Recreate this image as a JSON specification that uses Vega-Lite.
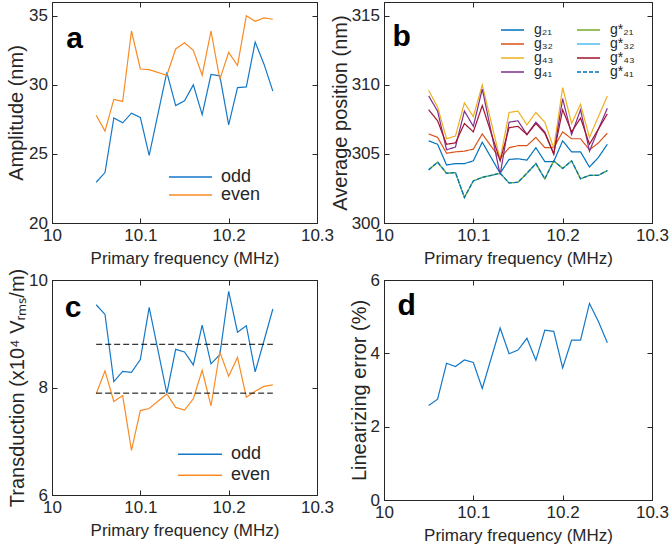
{
  "$schema": "https://vega.github.io/schema/vega-lite/v6.json",
  "background": "white",
  "padding": {"left": 6, "top": 1, "right": 4, "bottom": 0},
  "config": {
    "font": "Liberation Sans",
    "view": {"stroke": "#262626", "strokeWidth": 1},
    "axis": {
      "grid": false,
      "domainColor": "#262626", "domainWidth": 1,
      "tickColor": "#262626", "tickWidth": 1, "tickSize": -5,
      "labelColor": "#262626", "titleColor": "#262626",
      "labelFont": "Liberation Sans", "titleFont": "Liberation Sans",
      "labelFontSize": 17, "titleFontWeight": "normal",
      "labelFlush": false, "labelOverlap": false
    },
    "legend": {
      "labelFont": "Liberation Sans", "labelColor": "#262626",
      "symbolType": "stroke", "padding": 0, "orient": "none"
    }
  },
  "datasets": {
    "amp": [
      {"f": 10.05, "parity": "odd", "v": 22.95}, {"f": 10.06, "parity": "odd", "v": 23.65},
      {"f": 10.07, "parity": "odd", "v": 27.6}, {"f": 10.08, "parity": "odd", "v": 27.25},
      {"f": 10.09, "parity": "odd", "v": 27.95}, {"f": 10.1, "parity": "odd", "v": 27.65},
      {"f": 10.11, "parity": "odd", "v": 24.9}, {"f": 10.13, "parity": "odd", "v": 30.9},
      {"f": 10.14, "parity": "odd", "v": 28.5}, {"f": 10.15, "parity": "odd", "v": 28.85},
      {"f": 10.16, "parity": "odd", "v": 30.0}, {"f": 10.17, "parity": "odd", "v": 27.85},
      {"f": 10.18, "parity": "odd", "v": 30.75}, {"f": 10.19, "parity": "odd", "v": 30.65},
      {"f": 10.2, "parity": "odd", "v": 27.1}, {"f": 10.21, "parity": "odd", "v": 29.8},
      {"f": 10.22, "parity": "odd", "v": 29.85}, {"f": 10.23, "parity": "odd", "v": 33.1},
      {"f": 10.24, "parity": "odd", "v": 31.5}, {"f": 10.25, "parity": "odd", "v": 29.55},
      {"f": 10.05, "parity": "even", "v": 27.8}, {"f": 10.06, "parity": "even", "v": 26.65},
      {"f": 10.07, "parity": "even", "v": 28.95}, {"f": 10.08, "parity": "even", "v": 28.8},
      {"f": 10.09, "parity": "even", "v": 33.9}, {"f": 10.1, "parity": "even", "v": 31.15},
      {"f": 10.11, "parity": "even", "v": 31.1}, {"f": 10.13, "parity": "even", "v": 30.7},
      {"f": 10.14, "parity": "even", "v": 32.6}, {"f": 10.15, "parity": "even", "v": 33.05},
      {"f": 10.16, "parity": "even", "v": 32.5}, {"f": 10.17, "parity": "even", "v": 30.7},
      {"f": 10.18, "parity": "even", "v": 33.9}, {"f": 10.19, "parity": "even", "v": 30.4},
      {"f": 10.2, "parity": "even", "v": 32.35}, {"f": 10.21, "parity": "even", "v": 31.4},
      {"f": 10.22, "parity": "even", "v": 35.0}, {"f": 10.23, "parity": "even", "v": 34.6},
      {"f": 10.24, "parity": "even", "v": 34.85}, {"f": 10.25, "parity": "even", "v": 34.75}
    ],
    "pos": [
      {"f": 10.05, "s": "g*₃₂", "v": 303.85}, {"f": 10.06, "s": "g*₃₂", "v": 304.4}, {"f": 10.07, "s": "g*₃₂", "v": 303.6}, {"f": 10.08, "s": "g*₃₂", "v": 303.65}, {"f": 10.09, "s": "g*₃₂", "v": 301.85}, {"f": 10.1, "s": "g*₃₂", "v": 303.05}, {"f": 10.11, "s": "g*₃₂", "v": 303.3}, {"f": 10.13, "s": "g*₃₂", "v": 303.6}, {"f": 10.14, "s": "g*₃₂", "v": 302.9}, {"f": 10.15, "s": "g*₃₂", "v": 302.95}, {"f": 10.16, "s": "g*₃₂", "v": 303.6}, {"f": 10.17, "s": "g*₃₂", "v": 304.3}, {"f": 10.18, "s": "g*₃₂", "v": 303.2}, {"f": 10.19, "s": "g*₃₂", "v": 304.5}, {"f": 10.2, "s": "g*₃₂", "v": 303.95}, {"f": 10.21, "s": "g*₃₂", "v": 304.5}, {"f": 10.22, "s": "g*₃₂", "v": 303.2}, {"f": 10.23, "s": "g*₃₂", "v": 303.45}, {"f": 10.24, "s": "g*₃₂", "v": 303.45}, {"f": 10.25, "s": "g*₃₂", "v": 303.8},
      {"f": 10.05, "s": "g₂₁", "v": 305.95}, {"f": 10.06, "s": "g₂₁", "v": 305.7}, {"f": 10.07, "s": "g₂₁", "v": 304.2}, {"f": 10.08, "s": "g₂₁", "v": 304.3}, {"f": 10.09, "s": "g₂₁", "v": 304.3}, {"f": 10.1, "s": "g₂₁", "v": 304.5}, {"f": 10.11, "s": "g₂₁", "v": 305.85}, {"f": 10.13, "s": "g₂₁", "v": 303.6}, {"f": 10.14, "s": "g₂₁", "v": 304.6}, {"f": 10.15, "s": "g₂₁", "v": 304.65}, {"f": 10.16, "s": "g₂₁", "v": 304.55}, {"f": 10.17, "s": "g₂₁", "v": 305.45}, {"f": 10.18, "s": "g₂₁", "v": 304.45}, {"f": 10.19, "s": "g₂₁", "v": 304.45}, {"f": 10.2, "s": "g₂₁", "v": 305.95}, {"f": 10.21, "s": "g₂₁", "v": 305.15}, {"f": 10.22, "s": "g₂₁", "v": 305.15}, {"f": 10.23, "s": "g₂₁", "v": 304.05}, {"f": 10.24, "s": "g₂₁", "v": 304.75}, {"f": 10.25, "s": "g₂₁", "v": 305.7},
      {"f": 10.05, "s": "g₃₂", "v": 306.45}, {"f": 10.06, "s": "g₃₂", "v": 306.2}, {"f": 10.07, "s": "g₃₂", "v": 305.05}, {"f": 10.08, "s": "g₃₂", "v": 305.15}, {"f": 10.09, "s": "g₃₂", "v": 305.2}, {"f": 10.1, "s": "g₃₂", "v": 305.35}, {"f": 10.11, "s": "g₃₂", "v": 306.45}, {"f": 10.13, "s": "g₃₂", "v": 304.65}, {"f": 10.14, "s": "g₃₂", "v": 305.45}, {"f": 10.15, "s": "g₃₂", "v": 305.6}, {"f": 10.16, "s": "g₃₂", "v": 305.6}, {"f": 10.17, "s": "g₃₂", "v": 306.2}, {"f": 10.18, "s": "g₃₂", "v": 305.45}, {"f": 10.19, "s": "g₃₂", "v": 305.45}, {"f": 10.2, "s": "g₃₂", "v": 306.6}, {"f": 10.21, "s": "g₃₂", "v": 306.1}, {"f": 10.22, "s": "g₃₂", "v": 306.1}, {"f": 10.23, "s": "g₃₂", "v": 305.3}, {"f": 10.24, "s": "g₃₂", "v": 305.8}, {"f": 10.25, "s": "g₃₂", "v": 306.5},
      {"f": 10.05, "s": "g₄₃", "v": 309.6}, {"f": 10.06, "s": "g₄₃", "v": 308.4}, {"f": 10.07, "s": "g₄₃", "v": 306.1}, {"f": 10.08, "s": "g₄₃", "v": 306.3}, {"f": 10.09, "s": "g₄₃", "v": 308.7}, {"f": 10.1, "s": "g₄₃", "v": 307.7}, {"f": 10.11, "s": "g₄₃", "v": 310.0}, {"f": 10.13, "s": "g₄₃", "v": 304.6}, {"f": 10.14, "s": "g₄₃", "v": 308.0}, {"f": 10.15, "s": "g₄₃", "v": 308.1}, {"f": 10.16, "s": "g₄₃", "v": 307.1}, {"f": 10.17, "s": "g₄₃", "v": 308.0}, {"f": 10.18, "s": "g₄₃", "v": 307.3}, {"f": 10.19, "s": "g₄₃", "v": 305.4}, {"f": 10.2, "s": "g₄₃", "v": 309.8}, {"f": 10.21, "s": "g₄₃", "v": 307.2}, {"f": 10.22, "s": "g₄₃", "v": 308.6}, {"f": 10.23, "s": "g₄₃", "v": 306.2}, {"f": 10.24, "s": "g₄₃", "v": 307.7}, {"f": 10.25, "s": "g₄₃", "v": 309.2},
      {"f": 10.05, "s": "g₄₁", "v": 309.2}, {"f": 10.06, "s": "g₄₁", "v": 308.1}, {"f": 10.07, "s": "g₄₁", "v": 305.3}, {"f": 10.08, "s": "g₄₁", "v": 305.5}, {"f": 10.09, "s": "g₄₁", "v": 308.1}, {"f": 10.1, "s": "g₄₁", "v": 307.0}, {"f": 10.11, "s": "g₄₁", "v": 309.7}, {"f": 10.13, "s": "g₄₁", "v": 303.5}, {"f": 10.14, "s": "g₄₁", "v": 307.3}, {"f": 10.15, "s": "g₄₁", "v": 307.4}, {"f": 10.16, "s": "g₄₁", "v": 306.4}, {"f": 10.17, "s": "g₄₁", "v": 307.3}, {"f": 10.18, "s": "g₄₁", "v": 306.6}, {"f": 10.19, "s": "g₄₁", "v": 305.0}, {"f": 10.2, "s": "g₄₁", "v": 309.0}, {"f": 10.21, "s": "g₄₁", "v": 306.4}, {"f": 10.22, "s": "g₄₁", "v": 308.2}, {"f": 10.23, "s": "g₄₁", "v": 305.2}, {"f": 10.24, "s": "g₄₁", "v": 306.8}, {"f": 10.25, "s": "g₄₁", "v": 308.3},
      {"f": 10.05, "s": "g*₄₃", "v": 308.2}, {"f": 10.06, "s": "g*₄₃", "v": 307.4}, {"f": 10.07, "s": "g*₄₃", "v": 305.7}, {"f": 10.08, "s": "g*₄₃", "v": 305.8}, {"f": 10.09, "s": "g*₄₃", "v": 307.2}, {"f": 10.1, "s": "g*₄₃", "v": 306.6}, {"f": 10.11, "s": "g*₄₃", "v": 308.5}, {"f": 10.13, "s": "g*₄₃", "v": 304.5}, {"f": 10.14, "s": "g*₄₃", "v": 306.9}, {"f": 10.15, "s": "g*₄₃", "v": 307.0}, {"f": 10.16, "s": "g*₄₃", "v": 306.4}, {"f": 10.17, "s": "g*₄₃", "v": 307.2}, {"f": 10.18, "s": "g*₄₃", "v": 306.5}, {"f": 10.19, "s": "g*₄₃", "v": 305.0}, {"f": 10.2, "s": "g*₄₃", "v": 308.2}, {"f": 10.21, "s": "g*₄₃", "v": 306.6}, {"f": 10.22, "s": "g*₄₃", "v": 307.6}, {"f": 10.23, "s": "g*₄₃", "v": 305.7}, {"f": 10.24, "s": "g*₄₃", "v": 306.8}, {"f": 10.25, "s": "g*₄₃", "v": 307.9},
      {"f": 10.05, "s": "g*₂₁", "v": 303.85}, {"f": 10.06, "s": "g*₂₁", "v": 304.4}, {"f": 10.07, "s": "g*₂₁", "v": 303.6}, {"f": 10.08, "s": "g*₂₁", "v": 303.65}, {"f": 10.09, "s": "g*₂₁", "v": 301.85}, {"f": 10.1, "s": "g*₂₁", "v": 303.05}, {"f": 10.11, "s": "g*₂₁", "v": 303.3}, {"f": 10.13, "s": "g*₂₁", "v": 303.6}, {"f": 10.14, "s": "g*₂₁", "v": 302.9}, {"f": 10.15, "s": "g*₂₁", "v": 302.95}, {"f": 10.16, "s": "g*₂₁", "v": 303.6}, {"f": 10.17, "s": "g*₂₁", "v": 304.3}, {"f": 10.18, "s": "g*₂₁", "v": 303.2}, {"f": 10.19, "s": "g*₂₁", "v": 304.5}, {"f": 10.2, "s": "g*₂₁", "v": 303.95}, {"f": 10.21, "s": "g*₂₁", "v": 304.5}, {"f": 10.22, "s": "g*₂₁", "v": 303.2}, {"f": 10.23, "s": "g*₂₁", "v": 303.45}, {"f": 10.24, "s": "g*₂₁", "v": 303.45}, {"f": 10.25, "s": "g*₂₁", "v": 303.8},
      {"f": 10.05, "s": "g*₄₁", "v": 303.85}, {"f": 10.06, "s": "g*₄₁", "v": 304.4}, {"f": 10.07, "s": "g*₄₁", "v": 303.6}, {"f": 10.08, "s": "g*₄₁", "v": 303.65}, {"f": 10.09, "s": "g*₄₁", "v": 301.85}, {"f": 10.1, "s": "g*₄₁", "v": 303.05}, {"f": 10.11, "s": "g*₄₁", "v": 303.3}, {"f": 10.13, "s": "g*₄₁", "v": 303.6}, {"f": 10.14, "s": "g*₄₁", "v": 302.9}, {"f": 10.15, "s": "g*₄₁", "v": 302.95}, {"f": 10.16, "s": "g*₄₁", "v": 303.6}, {"f": 10.17, "s": "g*₄₁", "v": 304.3}, {"f": 10.18, "s": "g*₄₁", "v": 303.2}, {"f": 10.19, "s": "g*₄₁", "v": 304.5}, {"f": 10.2, "s": "g*₄₁", "v": 303.95}, {"f": 10.21, "s": "g*₄₁", "v": 304.5}, {"f": 10.22, "s": "g*₄₁", "v": 303.2}, {"f": 10.23, "s": "g*₄₁", "v": 303.45}, {"f": 10.24, "s": "g*₄₁", "v": 303.45}, {"f": 10.25, "s": "g*₄₁", "v": 303.8}
    ],
    "trans": [
      {"f": 10.05, "parity": "odd", "v": 9.54}, {"f": 10.06, "parity": "odd", "v": 9.36},
      {"f": 10.07, "parity": "odd", "v": 8.11}, {"f": 10.08, "parity": "odd", "v": 8.3},
      {"f": 10.09, "parity": "odd", "v": 8.28}, {"f": 10.1, "parity": "odd", "v": 8.52},
      {"f": 10.11, "parity": "odd", "v": 9.49}, {"f": 10.13, "parity": "odd", "v": 7.89},
      {"f": 10.14, "parity": "odd", "v": 8.71}, {"f": 10.15, "parity": "odd", "v": 8.66},
      {"f": 10.16, "parity": "odd", "v": 8.42}, {"f": 10.17, "parity": "odd", "v": 9.16},
      {"f": 10.18, "parity": "odd", "v": 8.44}, {"f": 10.19, "parity": "odd", "v": 8.61},
      {"f": 10.2, "parity": "odd", "v": 9.79}, {"f": 10.21, "parity": "odd", "v": 9.03},
      {"f": 10.22, "parity": "odd", "v": 9.15}, {"f": 10.23, "parity": "odd", "v": 8.29},
      {"f": 10.24, "parity": "odd", "v": 8.87}, {"f": 10.25, "parity": "odd", "v": 9.46},
      {"f": 10.05, "parity": "even", "v": 7.88}, {"f": 10.06, "parity": "even", "v": 8.31},
      {"f": 10.07, "parity": "even", "v": 7.74}, {"f": 10.08, "parity": "even", "v": 7.85},
      {"f": 10.09, "parity": "even", "v": 6.83}, {"f": 10.1, "parity": "even", "v": 7.57},
      {"f": 10.11, "parity": "even", "v": 7.61}, {"f": 10.13, "parity": "even", "v": 7.88},
      {"f": 10.14, "parity": "even", "v": 7.63}, {"f": 10.15, "parity": "even", "v": 7.58},
      {"f": 10.16, "parity": "even", "v": 7.79}, {"f": 10.17, "parity": "even", "v": 8.32},
      {"f": 10.18, "parity": "even", "v": 7.66}, {"f": 10.19, "parity": "even", "v": 8.66},
      {"f": 10.2, "parity": "even", "v": 8.21}, {"f": 10.21, "parity": "even", "v": 8.56},
      {"f": 10.22, "parity": "even", "v": 7.82}, {"f": 10.23, "parity": "even", "v": 7.93},
      {"f": 10.24, "parity": "even", "v": 8.02}, {"f": 10.25, "parity": "even", "v": 8.05}
    ],
    "err": [
      {"f": 10.05, "v": 2.58}, {"f": 10.06, "v": 2.75}, {"f": 10.07, "v": 3.73}, {"f": 10.08, "v": 3.64},
      {"f": 10.09, "v": 3.82}, {"f": 10.1, "v": 3.75}, {"f": 10.11, "v": 3.04}, {"f": 10.13, "v": 4.69},
      {"f": 10.14, "v": 3.99}, {"f": 10.15, "v": 4.09}, {"f": 10.16, "v": 4.41}, {"f": 10.17, "v": 3.81},
      {"f": 10.18, "v": 4.63}, {"f": 10.19, "v": 4.6}, {"f": 10.2, "v": 3.6}, {"f": 10.21, "v": 4.36},
      {"f": 10.22, "v": 4.36}, {"f": 10.23, "v": 5.36}, {"f": 10.24, "v": 4.87}, {"f": 10.25, "v": 4.29}
    ]
  },
  "columns": 2,
  "spacing": {"row": 57, "column": 67},
  "bounds": "flush",
  "resolve": {
    "scale": {"color": "independent", "strokeDash": "independent", "x": "independent", "y": "independent"},
    "legend": {"color": "independent", "strokeDash": "independent"}
  },
  "concat": [
    {
      "width": 265, "height": 221,
      "data": {"name": "amp"},
      "layer": [
        {
          "mark": {"type": "line", "strokeWidth": 1.2},
          "encoding": {
            "x": {"field": "f", "type": "quantitative", "scale": {"domain": [10, 10.3]},
                  "axis": {"orient": "bottom", "values": [10, 10.1, 10.2, 10.3], "format": "~f", "title": "Primary frequency (MHz)", "titleFontSize": 17, "labelPadding": 9, "titlePadding": 7}},
            "y": {"field": "v", "type": "quantitative", "scale": {"domain": [20, 35]},
                  "axis": {"orient": "left", "values": [20, 25, 30, 35], "title": "Amplitude (nm)", "titleFontSize": 20, "labelPadding": 9.5, "titlePadding": 2}},
            "color": {"field": "parity", "type": "nominal",
                      "scale": {"domain": ["odd", "even"], "range": ["#1478C8", "#F98B24"]},
                      "legend": {"title": null, "orient": "none", "legendX": 116, "legendY": 166, "symbolSize": 1849, "symbolStrokeWidth": 1.4, "labelFontSize": 18, "labelOffset": 8, "clipHeight": 18, "rowPadding": 0}}
          }
        },
        {
          "data": {"values": [{"label": "a"}]},
          "mark": {"type": "text", "fontSize": 30, "fontWeight": "bold", "align": "left", "baseline": "alphabetic", "color": "black"},
          "encoding": {
            "text": {"field": "label"},
            "x": {"datum": 10.016, "type": "quantitative", "axis": {"orient": "top", "values": [10, 10.1, 10.2, 10.3], "labels": false, "title": null}},
            "y": {"datum": 32.64, "type": "quantitative", "axis": {"orient": "right", "values": [20, 25, 30, 35], "labels": false, "title": null}}
          }
        }
      ],
      "resolve": {"axis": {"x": "independent", "y": "independent"}}
    },
    {
      "width": 268, "height": 221,
      "data": {"name": "pos"},
      "layer": [
        {
          "mark": {"type": "line", "strokeWidth": 1.2},
          "encoding": {
            "x": {"field": "f", "type": "quantitative", "scale": {"domain": [10, 10.3]},
                  "axis": {"orient": "bottom", "values": [10, 10.1, 10.2, 10.3], "format": "~f", "title": "Primary frequency (MHz)", "titleFontSize": 17, "labelPadding": 9, "titlePadding": 7}},
            "y": {"field": "v", "type": "quantitative", "scale": {"domain": [300, 315]},
                  "axis": {"orient": "left", "values": [300, 305, 310, 315], "title": "Average position (nm)", "titleFontSize": 20, "labelPadding": 9.5, "titlePadding": 1}},
            "color": {"field": "s", "type": "nominal",
                      "scale": {"domain": ["g₂₁", "g₃₂", "g₄₃", "g₄₁", "g*₂₁", "g*₃₂", "g*₄₃", "g*₄₁"],
                                "range": ["#0072BD", "#D95319", "#EDB120", "#7E2F8E", "#77AC30", "#4DBEEE", "#A2142F", "#0072BD"]},
                      "legend": {"title": null, "orient": "none", "legendX": 116, "legendY": 21, "columns": 2, "symbolSize": 529, "symbolStrokeWidth": 1.3, "labelFontSize": 14, "labelOffset": 9, "clipHeight": 14, "rowPadding": 0, "columnPadding": 22}},
            "strokeDash": {"field": "s", "type": "nominal",
                           "scale": {"domain": ["g₂₁", "g₃₂", "g₄₃", "g₄₁", "g*₂₁", "g*₃₂", "g*₄₃", "g*₄₁"],
                                     "range": [[1, 0], [1, 0], [1, 0], [1, 0], [1, 0], [1, 0], [1, 0], [4, 2]]},
                           "legend": {"title": null, "orient": "none", "legendX": 116, "legendY": 21, "columns": 2, "symbolSize": 529, "symbolStrokeWidth": 1.3, "labelFontSize": 14, "labelOffset": 9, "clipHeight": 14, "rowPadding": 0, "columnPadding": 22}}
          }
        },
        {
          "data": {"values": [{"label": "b"}]},
          "mark": {"type": "text", "fontSize": 30, "fontWeight": "bold", "align": "left", "baseline": "alphabetic", "color": "black"},
          "encoding": {
            "text": {"field": "label"},
            "x": {"datum": 10.0094, "type": "quantitative", "axis": {"orient": "top", "values": [10, 10.1, 10.2, 10.3], "labels": false, "title": null}},
            "y": {"datum": 312.78, "type": "quantitative", "axis": {"orient": "right", "values": [300, 305, 310, 315], "labels": false, "title": null}}
          }
        }
      ],
      "resolve": {"axis": {"x": "independent", "y": "independent"}}
    },
    {
      "width": 265, "height": 215,
      "data": {"name": "trans"},
      "layer": [
        {
          "mark": {"type": "line", "strokeWidth": 1.2},
          "encoding": {
            "x": {"field": "f", "type": "quantitative", "scale": {"domain": [10, 10.3]},
                  "axis": {"orient": "bottom", "values": [10, 10.1, 10.2, 10.3], "format": "~f", "title": "Primary frequency (MHz)", "titleFontSize": 17, "labelPadding": 9, "titlePadding": 7}},
            "y": {"field": "v", "type": "quantitative", "scale": {"domain": [6, 10]},
                  "axis": {"orient": "left", "values": [6, 8, 10], "title": "Transduction (x10⁴ Vᵣₘₛ/m)", "titleFontSize": 20, "labelPadding": 9.5, "titlePadding": 1}},
            "color": {"field": "parity", "type": "nominal",
                      "scale": {"domain": ["odd", "even"], "range": ["#1478C8", "#F98B24"]},
                      "legend": {"title": null, "orient": "none", "legendX": 125, "legendY": 164, "symbolSize": 1936, "symbolStrokeWidth": 1.4, "labelFontSize": 18, "labelOffset": 8, "clipHeight": 20.5, "rowPadding": 0}}
          }
        },
        {
          "mark": {"type": "rule", "color": "black", "strokeWidth": 1, "strokeDash": [6, 3]},
          "encoding": {
            "x": {"aggregate": "min", "field": "f", "type": "quantitative", "axis": null},
            "x2": {"aggregate": "max", "field": "f"},
            "y": {"aggregate": "mean", "field": "v", "type": "quantitative", "axis": null},
            "detail": {"field": "parity", "type": "nominal"}
          }
        },
        {
          "data": {"values": [{"label": "c"}]},
          "mark": {"type": "text", "fontSize": 30, "fontWeight": "bold", "align": "left", "baseline": "alphabetic", "color": "black"},
          "encoding": {
            "text": {"field": "label"},
            "x": {"datum": 10.0143, "type": "quantitative", "axis": {"orient": "top", "values": [10, 10.1, 10.2, 10.3], "labels": false, "title": null}},
            "y": {"datum": 9.32, "type": "quantitative", "axis": {"orient": "right", "values": [6, 8, 10], "labels": false, "title": null}}
          }
        }
      ],
      "resolve": {"axis": {"x": "independent", "y": "independent"}}
    },
    {
      "width": 268, "height": 220,
      "data": {"name": "err"},
      "layer": [
        {
          "mark": {"type": "line", "strokeWidth": 1.2, "color": "#1478C8"},
          "encoding": {
            "x": {"field": "f", "type": "quantitative", "scale": {"domain": [10, 10.3]},
                  "axis": {"orient": "bottom", "values": [10, 10.1, 10.2, 10.3], "format": "~f", "title": "Primary frequency (MHz)", "titleFontSize": 17, "labelPadding": 9, "titlePadding": 7}},
            "y": {"field": "v", "type": "quantitative", "scale": {"domain": [0, 6]},
                  "axis": {"orient": "left", "values": [0, 2, 4, 6], "title": "Linearizing error (%)", "titleFontSize": 20, "labelPadding": 9.5, "titlePadding": 1}}
          }
        },
        {
          "data": {"values": [{"label": "d"}]},
          "mark": {"type": "text", "fontSize": 30, "fontWeight": "bold", "align": "left", "baseline": "alphabetic", "color": "black"},
          "encoding": {
            "text": {"field": "label"},
            "x": {"datum": 10.015, "type": "quantitative", "axis": {"orient": "top", "values": [10, 10.1, 10.2, 10.3], "labels": false, "title": null}},
            "y": {"datum": 5.045, "type": "quantitative", "axis": {"orient": "right", "values": [0, 2, 4, 6], "labels": false, "title": null}}
          }
        }
      ],
      "resolve": {"axis": {"x": "independent", "y": "independent"}}
    }
  ]
}
